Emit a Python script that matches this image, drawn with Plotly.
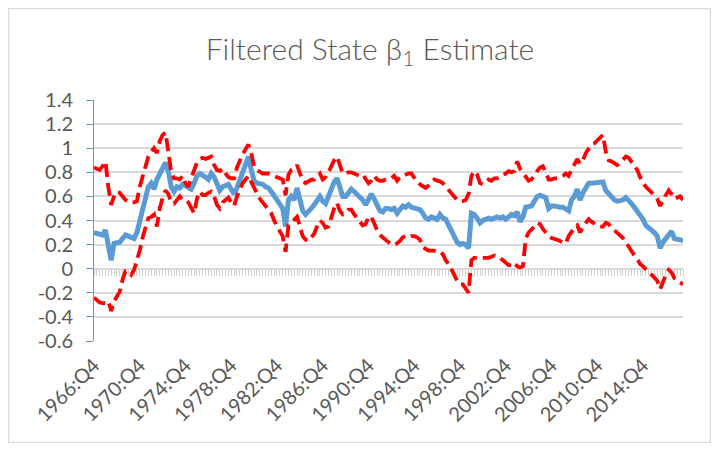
import plotly.graph_objects as go

# quarterly estimate of beta_1 with its upper / lower band, 1966:Q4 onwards
START_YEAR, START_QUARTER = 1966, 4

estimate = [
    0.30, 0.29, 0.28, 0.28, 0.32, 0.20, 0.07, 0.21, 0.22, 0.22, 0.25, 0.28, 0.27, 0.26, 0.25, 0.30,
    0.40, 0.48, 0.56, 0.68, 0.71, 0.66, 0.74, 0.78, 0.83, 0.88, 0.81, 0.68, 0.64, 0.68, 0.67, 0.70,
    0.69, 0.67, 0.66, 0.71, 0.77, 0.79, 0.78, 0.76, 0.74, 0.79, 0.76, 0.71, 0.65, 0.68, 0.69, 0.70,
    0.66, 0.62, 0.67, 0.73, 0.80, 0.87, 0.93, 0.82, 0.73, 0.71, 0.71, 0.70, 0.68, 0.67, 0.64, 0.60,
    0.56, 0.53, 0.50, 0.35, 0.57, 0.60, 0.57, 0.67, 0.57, 0.48, 0.45, 0.47, 0.50, 0.53, 0.56, 0.60,
    0.56, 0.54, 0.60, 0.66, 0.72, 0.75, 0.67, 0.60, 0.60, 0.63, 0.66, 0.64, 0.62, 0.59, 0.57, 0.53,
    0.58, 0.62, 0.58, 0.52, 0.48, 0.47, 0.50, 0.50, 0.49, 0.50, 0.46, 0.49, 0.52, 0.51, 0.53, 0.51,
    0.50, 0.50, 0.49, 0.46, 0.42, 0.41, 0.43, 0.42, 0.41, 0.45, 0.42, 0.41, 0.36, 0.30, 0.26, 0.22,
    0.20, 0.21, 0.20, 0.17, 0.46, 0.45, 0.42, 0.38, 0.40, 0.41, 0.42, 0.41, 0.42, 0.43, 0.42, 0.43,
    0.41, 0.43, 0.45, 0.44, 0.47, 0.39, 0.43, 0.51, 0.52, 0.52, 0.56, 0.60, 0.61, 0.60, 0.59, 0.50,
    0.52, 0.52, 0.51, 0.51, 0.51, 0.50, 0.48, 0.57, 0.60, 0.66, 0.57, 0.63, 0.67, 0.71, 0.71, 0.71,
    0.71, 0.71, 0.72, 0.65, 0.62, 0.60, 0.57, 0.56, 0.56, 0.57, 0.59, 0.57, 0.54, 0.51, 0.48, 0.45,
    0.41, 0.36, 0.34, 0.33, 0.30, 0.27, 0.17, 0.22, 0.25, 0.29, 0.31, 0.25, 0.25, 0.24, 0.23,
]

upper = [
    0.84, 0.83, 0.82, 0.85, 0.89, 0.68, 0.53, 0.60, 0.64, 0.63, 0.60, 0.57, 0.56, 0.545, 0.55, 0.56,
    0.68, 0.76, 0.86, 0.93, 0.97, 1.00, 0.96, 1.06, 1.11, 1.13, 0.97, 0.80, 0.75, 0.75, 0.74, 0.77,
    0.71, 0.68, 0.75, 0.82, 0.88, 0.91, 0.92, 0.91, 0.92, 0.93, 0.86, 0.82, 0.81, 0.83, 0.79, 0.76,
    0.75, 0.75, 0.84, 0.90, 0.95, 0.99, 1.03, 0.96, 0.85, 0.82, 0.80, 0.79, 0.79, 0.79, 0.78, 0.77,
    0.76, 0.75, 0.74, 0.61, 0.78, 0.82, 0.83, 0.86, 0.79, 0.73, 0.71, 0.73, 0.74, 0.74, 0.76, 0.79,
    0.74, 0.76, 0.80, 0.86, 0.90, 0.93, 0.86, 0.79, 0.79, 0.80, 0.80, 0.79, 0.78, 0.77, 0.78, 0.75,
    0.71, 0.73, 0.77, 0.74, 0.73, 0.73, 0.74, 0.75, 0.75, 0.77, 0.73, 0.76, 0.77, 0.78, 0.79, 0.79,
    0.75, 0.72, 0.70, 0.68, 0.67, 0.69, 0.71, 0.74, 0.73, 0.725, 0.71, 0.68, 0.65, 0.62, 0.59, 0.57,
    0.56, 0.56, 0.57, 0.62, 0.77, 0.81, 0.78, 0.71, 0.70, 0.72, 0.74, 0.73, 0.75, 0.75, 0.76, 0.78,
    0.79, 0.81, 0.80, 0.81, 0.89, 0.83, 0.80, 0.77, 0.73, 0.74, 0.78, 0.81, 0.84, 0.85, 0.80, 0.74,
    0.74, 0.75, 0.75, 0.76, 0.77, 0.79, 0.77, 0.82, 0.86, 0.91, 0.87, 0.90, 0.96, 1.00, 1.03, 1.04,
    1.06, 1.09, 1.11, 0.97, 0.90, 0.89, 0.87, 0.86, 0.88, 0.90, 0.93, 0.92, 0.89, 0.86, 0.82, 0.76,
    0.71, 0.68, 0.66, 0.64, 0.61, 0.58, 0.52, 0.57, 0.61, 0.65, 0.62, 0.58, 0.59, 0.60, 0.57,
]

lower = [
    -0.24, -0.26, -0.28, -0.285, -0.285, -0.27, -0.35, -0.27, -0.23, -0.19, -0.09, -0.02, -0.02, -0.05, -0.01, 0.06,
    0.15, 0.26, 0.33, 0.42, 0.43, 0.45, 0.35, 0.50, 0.59, 0.65, 0.62, 0.55, 0.54, 0.57, 0.60, 0.57,
    0.57, 0.55, 0.50, 0.46, 0.58, 0.64, 0.61, 0.61, 0.63, 0.64, 0.60, 0.53, 0.50, 0.55, 0.57, 0.59,
    0.55, 0.52, 0.60, 0.66, 0.71, 0.74, 0.77, 0.72, 0.67, 0.62, 0.58, 0.55, 0.52, 0.50, 0.46, 0.40,
    0.35, 0.31, 0.27, 0.14, 0.36, 0.38, 0.41, 0.43, 0.35, 0.27, 0.24, 0.23, 0.26, 0.29, 0.35, 0.40,
    0.38, 0.34, 0.35, 0.42, 0.50, 0.545, 0.48, 0.45, 0.46, 0.49, 0.49, 0.45, 0.42, 0.39, 0.36, 0.37,
    0.43, 0.43, 0.37, 0.32, 0.28, 0.26, 0.24, 0.22, 0.20, 0.20, 0.21, 0.23, 0.26, 0.27, 0.26, 0.27,
    0.27, 0.26, 0.24, 0.18, 0.16, 0.15, 0.15, 0.15, 0.14, 0.14, 0.12, 0.07, 0.04, 0.00, -0.05, -0.10,
    -0.13, -0.13, -0.16, -0.20, 0.07, 0.09, 0.09, 0.09, 0.09, 0.09, 0.09, 0.10, 0.11, 0.10, 0.09, 0.07,
    0.05, 0.03, 0.03, 0.05, 0.02, 0.01, 0.02, 0.25, 0.30, 0.32, 0.35, 0.38, 0.37, 0.33, 0.30, 0.27,
    0.255, 0.25, 0.24, 0.23, 0.22, 0.21, 0.27, 0.31, 0.34, 0.36, 0.30, 0.35, 0.38, 0.41, 0.39, 0.37,
    0.36, 0.35, 0.35, 0.38, 0.37, 0.34, 0.32, 0.30, 0.28, 0.255, 0.22, 0.18, 0.14, 0.11, 0.08, 0.04,
    0.02, -0.01, -0.03, -0.05, -0.07, -0.10, -0.17, -0.10, -0.05, -0.01, -0.03, -0.08, -0.10, -0.12, -0.13,
]

quarters = [
    f"{START_YEAR + (START_QUARTER - 1 + k) // 4}:Q{(START_QUARTER - 1 + k) % 4 + 1}"
    for k in range(len(estimate))
]
x_labels = quarters[::16]  # every fourth year shown on the axis
y_ticks = [-0.6, -0.4, -0.2, 0, 0.2, 0.4, 0.6, 0.8, 1, 1.2, 1.4]

FONT = "Lato, 'Open Sans', sans-serif"
GREY_TEXT = "#595959"
BLUE = "#5B9BD5"
RED = "#FF0000"
RED_DASH = "13px,6px"

# the page body adds an 8px margin, so the figure is 16px smaller than the window
W, H = 703, 435
L, R, T, B = 86, 28, 92, 102
PW, PH = W - L - R, H - T - B

fig = go.Figure()
fig.add_trace(go.Scatter(
    x=quarters, y=estimate, mode="lines",
    line=dict(color=BLUE, width=5), name="estimate",
))
fig.add_trace(go.Scatter(
    x=quarters, y=upper, mode="lines",
    line=dict(color=RED, width=3.8, dash=RED_DASH), name="upper",
))
# the lower band sits on the overlaid axis that draws the hatched zero line
fig.add_trace(go.Scatter(
    x=quarters, y=lower, mode="lines", xaxis="x2",
    line=dict(color=RED, width=3.8, dash=RED_DASH), name="lower",
))

n = len(quarters)
fig.update_layout(
    width=W, height=H,
    margin=dict(l=L, r=R, t=T, b=B, autoexpand=False),
    paper_bgcolor="white", plot_bgcolor="white",
    showlegend=False,
    font=dict(family=FONT, color=GREY_TEXT),
    title=dict(
        text="Filtered State β<sub>1</sub> Estimate",
        x=362 / W, xref="container", xanchor="center",
        y=1 - 41 / H, yref="container", yanchor="middle",
        font=dict(family=FONT, size=30, color=GREY_TEXT, weight=300),
    ),
    xaxis=dict(
        type="category", range=[0, n - 1], automargin=False,
        tickmode="array", tickvals=x_labels, ticktext=x_labels,
        tickangle=-45, tickfont=dict(size=20, color=GREY_TEXT),
        ticks="", showgrid=False, showline=False, zeroline=False,
        ticklabelstandoff=8,
    ),
    xaxis2=dict(
        type="category", range=[0, n - 1], overlaying="x",
        anchor="free", position=0.3, automargin=False,
        tickmode="linear", tick0=0, dtick=1,
        ticks="outside", ticklen=7, tickwidth=1, tickcolor="#D0D0D0",
        showline=True, linecolor="#D9D9D9", linewidth=1.5,
        showticklabels=False, showgrid=False, zeroline=False,
        layer="below traces",
    ),
    yaxis=dict(
        range=[-0.6, 1.4], tickmode="array", tickvals=y_ticks, automargin=False,
        ticktext=[f"{v:g}" for v in y_ticks],
        tickfont=dict(size=20, color=GREY_TEXT),
        showgrid=True, gridcolor="#D9D9D9", gridwidth=1.5,
        zeroline=False,
        showline=True, linecolor=BLUE, linewidth=1,
        ticks="outside", ticklen=7, tickcolor=BLUE,
        ticklabelstandoff=9,
    ),
    shapes=[dict(
        type="rect", xref="paper", yref="paper",
        x0=(0.6 - L) / PW, x1=(W - 0.6 - L) / PW,
        y0=(T + PH - (H - 0.6)) / PH, y1=(T + PH - 0.6) / PH,
        line=dict(color="#D9D9D9", width=1.2), fillcolor="rgba(0,0,0,0)",
        layer="below",
    )],
)

fig.write_html("out.html")
